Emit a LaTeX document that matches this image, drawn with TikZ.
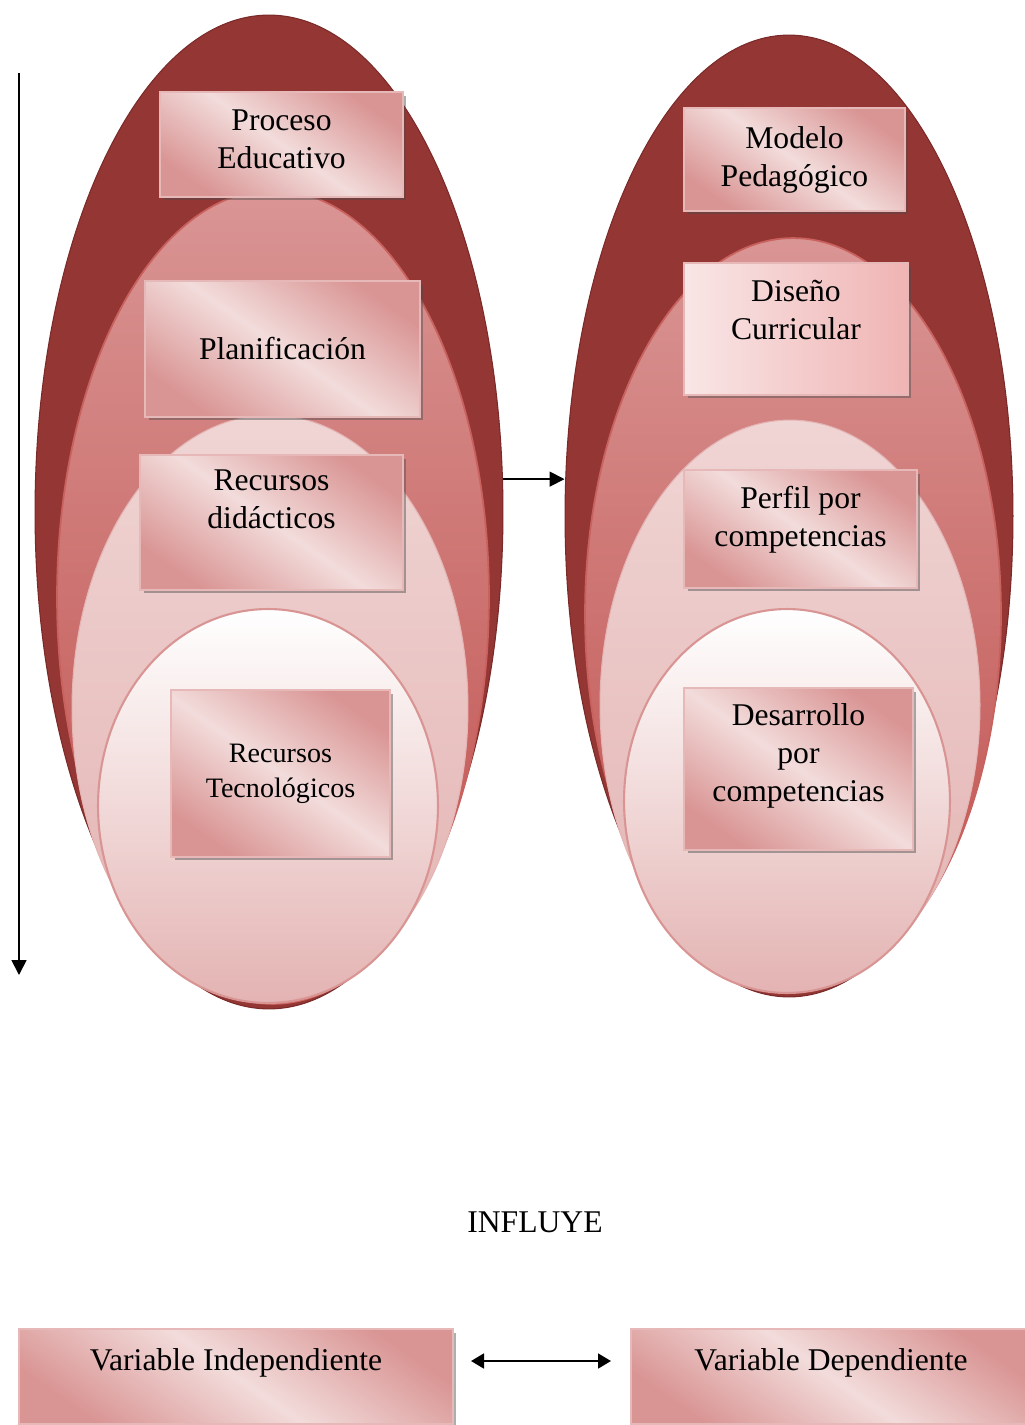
\documentclass[tikz,border=0pt]{standalone}
\usepackage{fontspec}
\setmainfont{Liberation Serif}
\usepackage{tikz}
\usetikzlibrary{arrows.meta,positioning,shapes.geometric,shadows,calc}

\definecolor{capaosc}{HTML}{943634}
\definecolor{capamed}{HTML}{A13F3D}
\definecolor{capaborde}{HTML}{7A2A28}
\definecolor{anillosup}{HTML}{D99594}
\definecolor{anilloinf}{HTML}{C0504D}
\definecolor{anilloborde}{HTML}{C9615E}
\definecolor{rosasup}{HTML}{F2DCDB}
\definecolor{rosainf}{HTML}{E3B3B2}
\definecolor{cajaclara}{HTML}{F2DCDB}
\definecolor{cajaosc}{HTML}{D99594}
\definecolor{cajaborde}{HTML}{E6B9B8}
\definecolor{disenoizq}{HTML}{F9E6E6}
\definecolor{disenoder}{HTML}{F0B4B4}

\tikzset{>={Triangle[length=0.3cm,width=0.3cm]},
    capa1/.style={ellipse, inner sep=0pt, draw=capaborde, line width=0.6pt,
        left color=capaosc, middle color=capamed, right color=capaosc},
    capa2/.style={ellipse, inner sep=0pt, draw=anilloborde, line width=1pt,
        top color=anillosup, middle color=anilloinf, bottom color=anilloinf},
    capa3/.style={ellipse, inner sep=0pt, draw=anillosup!70!white, line width=0.6pt,
        top color=rosasup!90!anillosup, middle color=rosasup, bottom color=rosainf},
    capa4/.style={ellipse, inner sep=0pt, draw=anillosup, line width=1.2pt,
        top color=white, middle color=rosasup!80!white, bottom color=rosainf},
    caja/.style={rectangle, draw=cajaborde, line width=1.2pt, align=center, inner sep=0pt,
        font=\fontsize{18}{21.6}\selectfont,
        top color=cajaosc, bottom color=cajaosc, middle color=cajaclara, shading angle=-35,
        drop shadow={shadow xshift=0.07cm, shadow yshift=-0.07cm, fill=black!70, opacity=0.45}},
    subir/.style={text depth=#1},
}

\begin{document}
\begin{tikzpicture}[x=0.02cm, y=-0.02cm]
    \useasboundingbox (0,0) rectangle (1024,1425);

    % capas de cada variable
    \foreach[count=\j] \cx/\cy/\w/\h/\estilo in {269/512/9.36/19.88/capa1,273/597/8.64/16.28/capa2,270/708/7.92/11.72/capa3,268/806/6.80/7.88/capa4} {
        \node[\estilo, minimum width=\w cm, minimum height=\h cm] (e-1-\j) at (\cx,\cy) {};
    }
    \foreach[count=\j] \cx/\cy/\w/\h/\estilo in {789/516/8.96/19.24/capa1,793/614/8.32/15.04/capa2,790/705/7.60/11.40/capa3,787/801/6.52/7.68/capa4} {
        \node[\estilo, minimum width=\w cm, minimum height=\h cm] (e-2-\j) at (\cx,\cy) {};
    }

    \node[caja, minimum width=4.86cm, minimum height=2.10cm, subir=0.2cm] (b-1-1) at (281.5,144.5) {Proceso\\Educativo};
    \node[caja, minimum width=5.50cm, minimum height=2.72cm] (b-1-2) at (282.5,349) {Planificación};
    \node[caja, minimum width=5.26cm, minimum height=2.70cm, subir=0.93cm] (b-1-3) at (271.5,522.5) {Recursos\\didácticos};
    \node[caja, minimum width=4.38cm, minimum height=3.34cm, font=\fontsize{16}{19.8}\selectfont] (b-1-4) at (280.5,773.5) {Recursos\\Tecnológicos};

    \node[caja, minimum width=4.42cm, minimum height=2.06cm] (b-2-1) at (794.5,159.5) {Modelo\\Pedagógico};
    \node[caja, minimum width=4.48cm, minimum height=2.64cm, subir=0.77cm,
        left color=disenoizq, right color=disenoder] (b-2-2) at (796,329) {Diseño\\Curricular};
    \node[caja, minimum width=4.66cm, minimum height=2.36cm, subir=0.49cm] (b-2-3) at (800.5,529) {Perfil por\\competencias};
    \node[caja, minimum width=4.58cm, minimum height=3.24cm, subir=0.65cm] (b-2-4) at (798.5,769) {Desarrollo\\por\\competencias};

    \coordinate (inicio) at (19,73);
    \coordinate (fin) at (19,975);
    \draw[->, line width=1pt] (inicio) -- (fin);
    \draw[->, line width=1pt] (e-1-1.8) -- (e-1-1.8 -| e-2-1.west);

    \node[font=\fontsize{18}{21.6}\selectfont] (influye) at (535,1222) {INFLUYE};

    \node[caja, minimum width=8.68cm, minimum height=1.90cm, subir=0.67cm] (v-ind) at (236,1376.5) {Variable Independiente};
    \node[caja, minimum width=8.00cm, minimum height=1.90cm, subir=0.67cm] (v-dep) at (831,1376.5) {Variable Dependiente};
    \draw[<->, line width=1pt, >={Triangle[length=0.26cm,width=0.3cm]}]
        ([xshift=0.34cm,yshift=0.31cm]v-ind.east) -- ([xshift=-0.38cm,yshift=0.31cm]v-dep.west);
\end{tikzpicture}
\end{document}
